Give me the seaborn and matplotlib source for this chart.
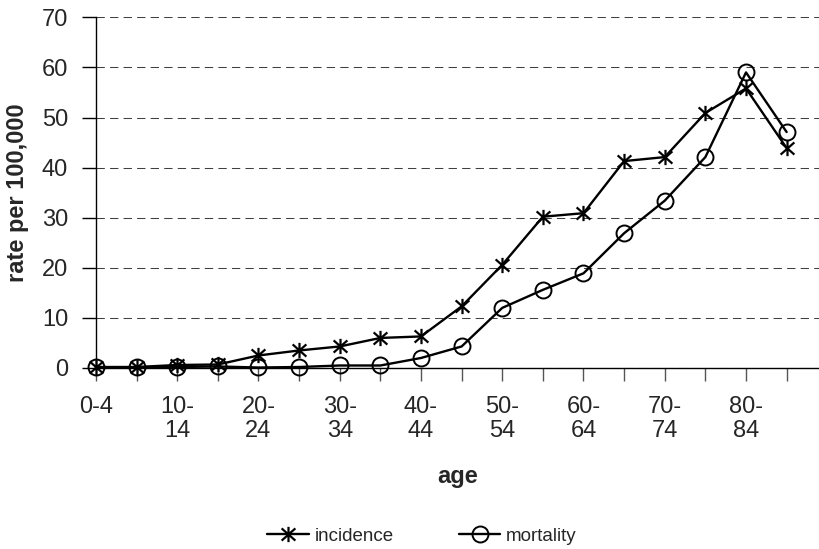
import matplotlib
matplotlib.use("Agg")
import matplotlib.pyplot as plt
from matplotlib.path import Path
from matplotlib.lines import Line2D
import seaborn as sns
import pandas as pd

age_groups = ["0-4", "5-9", "10-14", "15-19", "20-24", "25-29", "30-34", "35-39",
              "40-44", "45-49", "50-54", "55-59", "60-64", "65-69", "70-74",
              "75-79", "80-84", "85+"]
incidence = [0.2, 0.2, 0.6, 0.7, 2.5, 3.5, 4.3, 6.0, 6.3, 12.3, 20.6, 30.2,
             30.9, 41.3, 42.1, 50.9, 55.8, 43.9]
mortality = [0.1, 0.1, 0.2, 0.3, 0.1, 0.2, 0.5, 0.5, 2.0, 4.3, 12.0, 15.6,
             18.9, 26.9, 33.4, 42.1, 59.0, 47.1]
y_ticks = [0, 10, 20, 30, 40, 50, 60, 70]
series_names = ["incidence", "mortality"]

sns.set_style("white")
plt.rcParams["font.family"] = ["Liberation Sans", "DejaVu Sans"]

df = pd.DataFrame({"pos": list(range(len(age_groups))),
                   "age": age_groups,
                   "incidence": incidence,
                   "mortality": mortality})

# asterisk marker: vertical line plus an X
star = Path([(0, -1), (0, 1), (-0.9, -0.8), (0.9, 0.8), (-0.9, 0.8), (0.9, -0.8)],
            [Path.MOVETO, Path.LINETO, Path.MOVETO, Path.LINETO, Path.MOVETO, Path.LINETO])

W, H = 820, 549
fig = plt.figure(figsize=(W / 100, H / 100), dpi=100)
x0, x1, ytop, ybot = 96, 820, 17.3, 368
ax = fig.add_axes([x0 / W, 1 - ybot / H, (x1 - x0) / W, (ybot - ytop) / H])

ax.set_ylim(0, 70)
ax.set_yticks(y_ticks)
for yv in y_ticks:
    ax.axhline(yv, color="#404040", lw=0.75, dashes=(8, 5), zorder=0)

star_kw = dict(marker=star, markersize=11, markeredgewidth=1.6,
               markerfacecolor="none", markeredgecolor="black")
circ_kw = dict(marker="o", markersize=11.5, markeredgewidth=1.4,
               markerfacecolor="none", markeredgecolor="black")

sns.lineplot(data=df, x="pos", y="incidence", ax=ax, color="black", lw=1.7,
             zorder=3, clip_on=False, **star_kw)
sns.lineplot(data=df, x="pos", y="mortality", ax=ax, color="black", lw=1.7,
             zorder=3, clip_on=False, **circ_kw)

step = (746 - x0) / 16
ax.set_xlim(0, (x1 - x0) / step)
labels = []
for i, a in enumerate(age_groups):
    if i % 2 == 0:
        labels.append(a if len(a) <= 3 else a.replace("-", "-\n"))
    else:
        labels.append("")
ax.set_xticks(range(len(age_groups)))
ax.set_xticklabels(labels, fontsize=17, linespacing=1.15, va="top")
ax.tick_params(axis="x", direction="out", length=9, width=1, color="#555555",
               pad=11, bottom=True)
ax.tick_params(axis="y", direction="out", length=10, width=1, color="black",
               pad=10, labelsize=17, left=True)

for s in ["top", "right"]:
    ax.spines[s].set_visible(False)
for s in ["left", "bottom"]:
    ax.spines[s].set_color("black")
    ax.spines[s].set_linewidth(1)
ax.grid(False)

ax.set_xlabel("age", fontsize=17, fontweight="bold")
ax.xaxis.label.set_va("center")
ax.xaxis.set_label_coords(0.5, (ybot - 477) / (ybot - ytop))
ax.set_ylabel("rate per 100,000", fontsize=17, fontweight="bold")
ax.yaxis.label.set_va("center")
ax.yaxis.set_label_coords((18 - x0) / (x1 - x0), 0.5)

handles = [
    Line2D([], [], color="black", lw=1.7, **star_kw),
    Line2D([], [], color="black", lw=1.7, **circ_kw),
]
fig.legend(handles, series_names, loc="center", bbox_to_anchor=(422 / W, 1 - 536 / H),
           ncol=2, frameon=False, fontsize=13.5, handlelength=2.2,
           handletextpad=0.3, columnspacing=3.5)

fig.savefig("out.png", dpi=100)
